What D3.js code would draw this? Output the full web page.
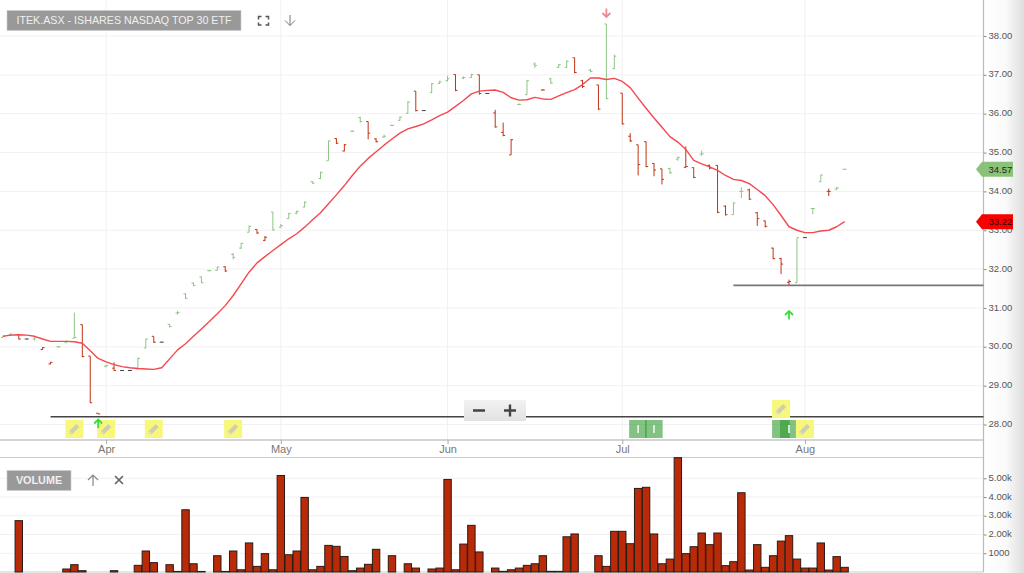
<!DOCTYPE html>
<html>
<head>
<meta charset="utf-8">
<script src="https://cdn.jsdelivr.net/npm/d3@7"></script>
<style>
  html, body { margin: 0; padding: 0; background: #fff; overflow: hidden; }
  svg { display: block; font-family: "Liberation Sans", Arial, sans-serif; }
</style>
</head>
<body>
<script>
// ITEK.ASX daily bars, index 0 = first bar on the left
const open = [30.24,30.31,30.32,30.20,30.20,29.93,29.56,30.00,30.12,30.22,30.57,29.76,28.29,29.50,29.45,29.39,29.39,29.43,29.97,30.27,30.12,30.58,30.87,31.36,31.64,31.80,31.96,31.97,32.06,32.38,32.54,32.95,33.02,32.74,33.47,33.08,33.30,33.44,33.60,34.25,34.33,34.79,35.36,35.04,35.55,35.90,35.80,35.35,35.40,35.70,35.83,36.01,36.58,36.08,36.55,36.78,36.85,37.01,36.92,36.93,37.00,36.52,36.02,35.52,34.94,36.24,36.49,37.28,36.61,36.90,37.19,37.19,37.44,36.85,37.12,36.74,38.31,37.16,36.53,35.42,35.20,35.28,34.72,34.58,34.59,34.83,34.62,34.61,34.96,34.67,34.67,33.62,33.40,34.00,34.04,33.45,33.24,32.54,32.27,31.66,31.65,32.81,33.56,34.25,34.00,34.06,34.57];
const high = [30.28,30.36,30.32,30.21,30.25,29.99,29.61,30.02,30.16,30.88,30.57,29.76,28.29,29.54,29.60,29.40,29.40,29.72,30.21,30.27,30.13,30.59,30.92,31.38,31.66,31.81,31.98,32.07,32.07,32.41,32.68,33.12,33.02,32.85,33.47,33.16,33.45,33.51,33.74,34.26,34.51,35.31,35.37,35.22,35.57,35.92,35.80,35.37,35.46,35.71,35.93,36.32,36.58,36.09,36.79,36.85,36.98,37.01,36.96,37.03,37.00,36.53,36.10,35.77,35.35,36.26,36.87,37.32,36.63,36.92,37.28,37.37,37.44,36.87,37.15,36.74,38.31,37.52,36.53,35.50,35.20,35.28,34.73,34.58,34.61,34.90,35.16,34.62,35.05,34.69,34.67,33.64,33.72,34.11,34.07,33.47,33.25,32.55,32.29,31.73,32.81,32.82,33.57,34.43,34.07,34.11,34.58];
const low = [30.24,30.28,30.19,30.19,30.16,29.92,29.55,29.98,30.09,30.22,29.73,28.55,28.27,29.47,29.38,29.38,29.38,29.43,29.97,30.10,30.11,30.50,30.83,31.23,31.56,31.64,31.94,31.96,31.93,32.25,32.52,32.95,32.91,32.72,32.99,33.06,33.30,33.41,33.59,34.20,34.32,34.79,35.22,35.03,35.53,35.77,35.34,35.26,35.38,35.68,35.82,36.00,36.06,36.07,36.53,36.77,36.83,36.58,36.89,36.92,36.49,36.51,35.64,35.42,34.94,36.22,36.49,37.18,36.60,36.77,37.18,37.18,37.04,36.66,37.07,36.10,36.37,37.15,35.72,35.27,34.41,34.62,34.39,34.18,34.45,34.79,34.61,34.34,34.91,34.57,33.44,33.38,33.40,33.83,33.78,33.11,33.07,32.25,31.87,31.59,31.65,32.80,33.41,34.25,33.88,34.03,34.56];
const close = [30.27,30.31,30.20,30.20,30.23,29.98,29.60,30.00,30.14,30.24,29.75,28.56,28.27,29.52,29.39,29.39,29.39,29.70,30.20,30.12,30.12,30.52,30.88,31.25,31.58,31.65,31.96,32.05,31.95,32.30,32.66,33.10,32.93,32.82,33.01,33.12,33.43,33.48,33.72,34.21,34.49,35.30,35.24,35.20,35.55,35.80,35.50,35.28,35.42,35.70,35.91,36.30,36.08,36.08,36.77,36.82,36.90,36.60,36.93,37.01,36.52,36.52,35.66,35.44,35.33,36.24,36.85,37.24,36.61,36.79,37.26,37.35,37.06,36.70,37.09,36.12,36.39,37.48,35.74,35.30,34.69,34.64,34.55,34.31,34.48,34.87,34.64,34.36,34.97,34.60,33.46,33.40,33.70,34.00,33.80,33.30,33.10,32.27,32.13,31.68,32.81,32.81,33.56,34.42,34.00,34.09,34.57];
const sma = [30.27,30.30,30.31,30.30,30.27,30.20,30.14,30.14,30.14,30.13,30.09,29.90,29.70,29.61,29.54,29.49,29.46,29.44,29.43,29.42,29.46,29.69,29.92,30.08,30.27,30.46,30.65,30.85,31.06,31.32,31.62,31.92,32.16,32.32,32.48,32.63,32.78,32.91,33.08,33.27,33.45,33.68,33.91,34.15,34.41,34.65,34.85,35.02,35.19,35.35,35.50,35.61,35.67,35.74,35.84,35.95,36.04,36.19,36.34,36.51,36.58,36.60,36.61,36.55,36.41,36.35,36.36,36.42,36.38,36.37,36.46,36.54,36.62,36.75,36.92,36.92,36.88,36.91,36.83,36.67,36.40,36.14,35.89,35.65,35.41,35.27,35.08,34.80,34.71,34.63,34.54,34.41,34.31,34.28,34.20,34.05,33.89,33.66,33.38,33.09,33.00,32.94,32.94,32.98,33.00,33.09,33.22];
const volume = [0,0,2740,0,0,0,0,0,160,390,70,0,0,0,70,0,0,355,1120,500,0,390,30,3320,440,30,0,870,30,1120,120,1550,300,980,120,5150,920,1120,3980,120,300,1420,1370,830,70,210,410,1210,0,870,0,440,210,0,160,210,4940,120,1490,2490,1070,0,210,35,120,210,355,440,870,35,35,1880,2030,0,0,870,300,2170,2170,1510,4460,4520,2030,440,690,6100,980,1350,2080,1460,2080,340,550,4230,105,1460,250,870,1650,1940,690,210,210,1550,105,820,250];

const monthLabels = ['Apr', 'May', 'Jun', 'Jul', 'Aug'];
const monthBars = [13, 35, 56, 78, 101];
const priceTicks = [28, 29, 30, 31, 32, 33, 34, 35, 36, 37, 38];
const volumeTicks = [1000, 2000, 3000, 4000, 5000];
const volumeLabels = ['1000', '2.00k', '3.00k', '4.00k', '5.00k'];

const supportLevels = [28.2, 31.58];
const supportFromBar = [6, 92];
const noteBars = [9, 13, 19, 29, 101];
const noteBarsUpper = [98];
const blockBars = [80, 82, 98, 99];
const blockMarkedBars = [80, 82, 99];
const lastClose = 34.57;
const lastSma = 33.22;

const width = 1024, height = 573;
const axisX = 983.5;
const priceBottom = 440, volumeTop = 457.5, volumeBottom = 572;

const svg = d3.select('body').append('svg')
  .attr('width', width)
  .attr('height', height);

const defs = svg.append('defs');
const gutter = defs.append('linearGradient').attr('id', 'gutter');
gutter.append('stop').attr('offset', '0%').attr('stop-color', '#fff');
gutter.append('stop').attr('offset', '55%').attr('stop-color', '#fafafa');
gutter.append('stop').attr('offset', '100%').attr('stop-color', '#dedede');

const btn = defs.append('linearGradient').attr('id', 'btn').attr('x2', 0).attr('y2', 1);
btn.append('stop').attr('offset', '0%').attr('stop-color', '#f2f2f2');
btn.append('stop').attr('offset', '100%').attr('stop-color', '#e2e2e2');

const x = d3.scaleLinear().domain([0, 106]).range([2.9, 844.6]);
const y = d3.scaleLinear().domain([28, 38]).range([424.5, 36]);
const yVol = d3.scaleLinear().domain([0, 5000]).range([volumeBottom, 478.3]);

svg.append('rect')
  .attr('x', axisX).attr('y', 0)
  .attr('width', width - axisX).attr('height', height)
  .attr('fill', 'url(#gutter)');

// grid
const grid = svg.append('g').attr('stroke', '#f1f1f1').attr('stroke-width', 1);
grid.selectAll('.h').data(priceTicks).enter().append('line')
  .attr('x1', 0).attr('x2', axisX)
  .attr('y1', d => y(d)).attr('y2', d => y(d));
grid.selectAll('.v').data(monthBars).enter().append('line')
  .attr('x1', d => x(d)).attr('x2', d => x(d))
  .attr('y1', 0).attr('y2', priceBottom);
grid.selectAll('.vh').data(volumeTicks).enter().append('line')
  .attr('x1', 0).attr('x2', axisX)
  .attr('y1', d => yVol(d)).attr('y2', d => yVol(d));

// axes
const yAxis = d3.axisRight(y).tickValues(priceTicks).tickFormat(d3.format('.2f')).tickSize(3).tickPadding(2);
svg.append('g')
  .attr('transform', `translate(${axisX}, 0)`)
  .call(yAxis)
  .call(g => g.select('.domain').remove())
  .call(g => g.selectAll('line').attr('stroke', '#888'))
  .call(g => g.selectAll('text').attr('fill', '#555').attr('font-size', 9.5).attr('font-family', 'inherit').attr('dy', '0.22em'));

const volAxis = d3.axisRight(yVol).tickValues(volumeTicks)
  .tickFormat((d, i) => volumeLabels[i]).tickSize(3).tickPadding(2);
svg.append('g')
  .attr('transform', `translate(${axisX}, 0)`)
  .call(volAxis)
  .call(g => g.select('.domain').remove())
  .call(g => g.selectAll('line').attr('stroke', '#888'))
  .call(g => g.selectAll('text').attr('fill', '#555').attr('font-size', 9.5).attr('font-family', 'inherit').attr('dy', '0.22em'));

const xAxis = d3.axisBottom(x).tickValues(monthBars)
  .tickFormat((d, i) => monthLabels[i]).tickSize(4).tickPadding(1);
svg.append('g')
  .attr('transform', `translate(0, ${priceBottom})`)
  .call(xAxis)
  .call(g => g.select('.domain').remove())
  .call(g => g.selectAll('line').attr('stroke', '#aaa'))
  .call(g => g.selectAll('text').attr('fill', '#777').attr('font-size', 11).attr('font-family', 'inherit'));

const frame = svg.append('g').attr('fill', 'none');
frame.append('line').attr('x1', 0).attr('x2', axisX).attr('y1', priceBottom).attr('y2', priceBottom)
  .attr('stroke', '#aaa');
frame.append('line').attr('x1', 0).attr('x2', axisX).attr('y1', volumeTop).attr('y2', volumeTop)
  .attr('stroke', '#ccc');
frame.append('line').attr('x1', 0).attr('x2', axisX).attr('y1', volumeBottom).attr('y2', volumeBottom)
  .attr('stroke', '#ccc');
frame.append('line').attr('x1', axisX).attr('x2', axisX).attr('y1', 0).attr('y2', volumeBottom)
  .attr('stroke', '#bbb').attr('stroke-width', 1.2);

// support lines
svg.append('g').selectAll('line').data(supportLevels).enter().append('line')
  .attr('x1', (d, i) => x(supportFromBar[i])).attr('x2', axisX)
  .attr('y1', d => y(d)).attr('y2', d => y(d))
  .attr('stroke', (d, i) => i ? '#777' : '#444')
  .attr('stroke-width', (d, i) => i ? 1.8 : 1.3);

// bar colour goes by the close against the previous close
const barColor = i => {
  if (i === 0 || close[i] > close[i - 1]) return '#8cc583';
  if (close[i] < close[i - 1]) return '#bf3415';
  return '#444';
};

const bars = svg.append('g').selectAll('g').data(d3.range(open.length)).enter().append('g')
  .attr('stroke', barColor)
  .attr('stroke-width', 1)
  .attr('fill', 'none');
bars.append('line')
  .attr('x1', i => x(i)).attr('x2', i => x(i))
  .attr('y1', i => y(high[i])).attr('y2', i => y(low[i]));
bars.append('line')
  .attr('x1', i => x(i) - 2).attr('x2', i => x(i))
  .attr('y1', i => y(open[i])).attr('y2', i => y(open[i]));
bars.append('line')
  .attr('x1', i => x(i)).attr('x2', i => x(i) + 2)
  .attr('y1', i => y(close[i])).attr('y2', i => y(close[i]));

// moving average
const smaLine = d3.line()
  .x((d, i) => x(i))
  .y(d => y(d));
svg.append('path')
  .datum(sma)
  .attr('fill', 'none')
  .attr('stroke', '#f5484f')
  .attr('stroke-width', 1.4)
  .attr('stroke-linejoin', 'round')
  .attr('d', smaLine);

// volume bars
svg.append('g').selectAll('rect')
  .data(d3.range(volume.length).filter(i => volume[i] > 0))
  .enter().append('rect')
  .attr('x', i => x(i) - 3.7)
  .attr('width', 7.4)
  .attr('y', i => yVol(volume[i]))
  .attr('height', i => volumeBottom - yVol(volume[i]))
  .attr('fill', '#b82a08')
  .attr('stroke', '#2a1a16')
  .attr('stroke-width', 1);

// note and corporate-action markers
const pencil = (g) => {
  g.append('rect')
    .attr('x', -6).attr('y', -2.2)
    .attr('width', 11).attr('height', 4.4)
    .attr('fill', '#cfcfae')
    .attr('transform', 'rotate(-45)');
  g.append('path')
    .attr('d', 'M-5.6,5.6L-4.6,1.7L-1.7,4.6Z')
    .attr('fill', '#e0e0bc');
};

const noteRow = (bars, cy) => {
  const n = svg.append('g').selectAll('g').data(bars).enter().append('g')
    .attr('transform', d => `translate(${x(d)}, ${cy})`);
  n.append('rect')
    .attr('x', -9).attr('y', -9)
    .attr('width', 18).attr('height', 18)
    .attr('fill', '#f7f77c');
  n.call(pencil);
};

const blocks = svg.append('g').selectAll('rect').data(blockBars).enter().append('rect')
  .attr('x', d => x(d) - 9)
  .attr('y', 420)
  .attr('width', 17.6)
  .attr('height', 18)
  .attr('fill', '#2f9a2f')
  .attr('fill-opacity', 0.6);
svg.append('g').selectAll('rect').data(blockMarkedBars).enter().append('rect')
  .attr('x', d => x(d) - 0.8)
  .attr('y', 425)
  .attr('width', 1.6)
  .attr('height', 8)
  .attr('fill', '#eef6ee');

noteRow(noteBars, 429);
noteRow(noteBarsUpper, 409);

// signal arrows
const arrow = (cx, cy, color, up) => {
  const s = up ? 1 : -1;
  svg.append('path')
    .attr('d', `M${cx},${cy + 4.5 * s}V${cy - 4 * s}M${cx - 4},${cy} L${cx},${cy - 4 * s} L${cx + 4},${cy}`)
    .attr('fill', 'none')
    .attr('stroke', color)
    .attr('stroke-width', 1.8);
};
arrow(x(12), 423.5, '#3ddc3d', true);
arrow(x(99), 315, '#3ddc3d', true);
arrow(x(76), 13, '#f0888c', false);

// zoom buttons
const zoomBox = svg.append('g');
zoomBox.append('rect')
  .attr('x', 464).attr('y', 400)
  .attr('width', 62).attr('height', 21)
  .attr('rx', 1)
  .attr('fill', 'url(#btn)');
zoomBox.append('path')
  .attr('d', 'M473,410.5H485M504,410.5H516M510,404.5V416.5')
  .attr('stroke', '#444')
  .attr('stroke-width', 2.4)
  .attr('fill', 'none');

// price tags on the axis
const tag = (value, color, text) => {
  const c = y(value);
  svg.append('path')
    .attr('d', `M976,${c}L982,${c - 7.5}H1013V${c + 7.5}H982Z`)
    .attr('fill', color);
  svg.append('text')
    .attr('x', 988.5).attr('y', c + 3.4)
    .attr('font-size', 9.5)
    .attr('fill', text)
    .text(value.toFixed(2));
};
tag(lastClose, '#8bc27a', '#1c2a14');
tag(lastSma, '#f60000', '#3a0505');

// title and toolbar
const titleTag = (tx, ty, w, h, label, size, weight) => {
  svg.append('rect')
    .attr('x', tx).attr('y', ty)
    .attr('width', w).attr('height', h)
    .attr('fill', '#999')
    .attr('stroke', '#ccc')
    .attr('stroke-width', 0.6);
  svg.append('text')
    .attr('x', tx + w / 2).attr('y', ty + h / 2 + size * 0.36)
    .attr('text-anchor', 'middle')
    .attr('font-size', size)
    .attr('font-weight', weight)
    .attr('fill', '#f0f0f0')
    .text(label);
};
titleTag(7, 10.5, 234, 20, 'ITEK.ASX - ISHARES NASDAQ TOP 30 ETF', 10.7, 'normal');
titleTag(7, 470.5, 64, 20, 'VOLUME', 10.8, 'bold');

svg.append('path')
  .attr('d', 'M258.5,19.5V16.5H261.5M265.5,16.5H268.5V19.5M268.5,22.5V25H265.5M261.5,25H258.5V22.5')
  .attr('fill', 'none').attr('stroke', '#555').attr('stroke-width', 1.5);
svg.append('path')
  .attr('d', 'M290,15V25.5M285,20.5L290,25.5L295,20.5')
  .attr('fill', 'none').attr('stroke', '#777').attr('stroke-width', 1);
svg.append('path')
  .attr('d', 'M93,486V475M88,480L93,475L98,480')
  .attr('fill', 'none').attr('stroke', '#888').attr('stroke-width', 1.2);
svg.append('path')
  .attr('d', 'M115,476L123,484M123,476L115,484')
  .attr('fill', 'none').attr('stroke', '#666').attr('stroke-width', 1.7);
</script>
</body>
</html>
